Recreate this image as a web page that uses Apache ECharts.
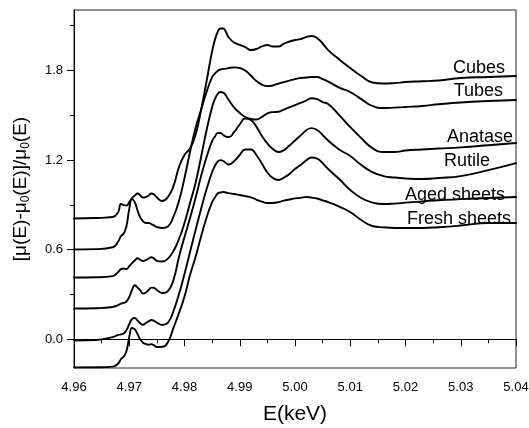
<!DOCTYPE html>
<html><head><meta charset="utf-8">
<script src="https://cdn.jsdelivr.net/npm/echarts@6/dist/echarts.min.js"></script>
<style>html,body{margin:0;padding:0;background:#fff}#c{width:529px;height:428px}</style>
</head><body><div id="c"></div>
<script>
const energy = [4.960,4.964,4.967,4.968,4.9685,4.969,4.9695,4.970,4.9705,4.971,4.9715,4.972,4.9725,4.973,4.9735,4.974,4.9745,4.975,4.976,4.977,4.978,4.979,4.980,4.981,4.982,4.983,4.984,4.985,4.9855,4.986,4.9865,4.987,4.9875,4.988,4.989,4.990,4.991,4.992,4.993,4.994,4.995,4.996,4.997,4.998,4.999,5.000,5.001,5.002,5.003,5.004,5.005,5.006,5.008,5.010,5.012,5.014,5.016,5.018,5.020,5.023,5.026,5.030,5.035,5.040];
const cubes = [0.808,0.811,0.818,0.852,0.905,0.898,0.895,0.918,0.945,0.962,0.975,0.962,0.948,0.952,0.962,0.975,0.968,0.948,0.925,0.952,1.025,1.152,1.233,1.276,1.367,1.534,1.728,1.928,2.002,2.056,2.079,2.079,2.056,2.019,1.985,1.969,1.955,1.935,1.942,1.959,1.969,1.959,1.959,1.978,1.992,2.002,2.008,2.022,2.029,2.015,1.979,1.935,1.872,1.815,1.761,1.718,1.711,1.714,1.721,1.726,1.731,1.748,1.755,1.761];
const tubes = [0.601,0.603,0.616,0.654,0.691,0.708,0.758,0.872,0.938,0.918,0.862,0.815,0.789,0.778,0.778,0.771,0.761,0.751,0.745,0.755,0.821,0.925,1.079,1.253,1.413,1.534,1.654,1.754,1.778,1.795,1.805,1.808,1.811,1.815,1.819,1.815,1.798,1.765,1.728,1.704,1.694,1.698,1.711,1.721,1.731,1.741,1.748,1.751,1.755,1.755,1.741,1.724,1.684,1.654,1.607,1.561,1.547,1.550,1.554,1.561,1.572,1.584,1.594,1.601];
const anatase = [0.413,0.415,0.423,0.450,0.470,0.474,0.470,0.490,0.510,0.527,0.542,0.532,0.524,0.530,0.540,0.549,0.540,0.525,0.520,0.540,0.591,0.671,0.778,0.912,1.046,1.220,1.400,1.554,1.607,1.641,1.654,1.651,1.631,1.601,1.550,1.514,1.487,1.474,1.470,1.487,1.512,1.520,1.522,1.537,1.552,1.567,1.581,1.597,1.613,1.607,1.587,1.574,1.500,1.420,1.346,1.279,1.253,1.253,1.263,1.270,1.276,1.284,1.298,1.313];
const rutile = [0.206,0.208,0.216,0.229,0.239,0.243,0.253,0.283,0.330,0.362,0.346,0.328,0.306,0.313,0.330,0.346,0.344,0.330,0.310,0.323,0.397,0.551,0.684,0.811,0.945,1.092,1.220,1.326,1.356,1.379,1.380,1.367,1.356,1.353,1.387,1.437,1.477,1.467,1.423,1.360,1.310,1.273,1.253,1.266,1.296,1.330,1.363,1.397,1.413,1.400,1.367,1.330,1.270,1.226,1.166,1.119,1.092,1.082,1.076,1.072,1.079,1.092,1.132,1.179];
const agedSheets = [-0.008,-0.005,0.015,0.029,0.033,0.039,0.062,0.102,0.136,0.142,0.126,0.107,0.097,0.109,0.120,0.129,0.124,0.112,0.096,0.112,0.189,0.303,0.437,0.584,0.731,0.872,1.005,1.119,1.159,1.189,1.199,1.193,1.179,1.169,1.193,1.233,1.270,1.270,1.233,1.176,1.116,1.079,1.066,1.082,1.106,1.139,1.166,1.196,1.216,1.209,1.179,1.139,1.072,0.999,0.945,0.915,0.905,0.908,0.914,0.923,0.930,0.938,0.945,0.952];
const freshSheets = [-0.188,-0.187,-0.183,-0.162,-0.132,-0.115,-0.078,0.015,0.076,0.066,0.035,-0.001,-0.023,-0.031,-0.036,-0.033,-0.041,-0.052,-0.050,-0.019,0.076,0.176,0.286,0.430,0.551,0.688,0.815,0.918,0.948,0.975,0.982,0.985,0.982,0.978,0.972,0.965,0.958,0.950,0.935,0.921,0.912,0.912,0.918,0.928,0.935,0.943,0.946,0.952,0.948,0.942,0.930,0.918,0.888,0.851,0.798,0.758,0.749,0.745,0.745,0.745,0.750,0.761,0.778,0.778];
const seriesNames = ['Cubes','Tubes','Anatase','Rutile','Aged sheets','Fresh sheets'];
const seriesValues = [cubes, tubes, anatase, rutile, agedSheets, freshSheets];
const yMajorTicks = [0, 0.6, 1.2, 1.8];
const yMinorTicks = [0.3, 0.9, 1.5, 2.1];

// label placement styling (pixel offsets from each curve's end)
const labelOffsets = [[-11,-8],[-13,-9],[-3,-6],[-26,-2.5],[-11,-2],[-5,-3.5]];
const FONT = '"Liberation Sans", Arial, sans-serif';

const chart = echarts.init(document.getElementById('c'), null, {renderer: 'canvas'});
const series = seriesValues.map((vals, i) => {
  const data = energy.map((e, k) => [e, vals[k]]);
  const last = data[data.length - 1];
  return {
    name: seriesNames[i], type: 'line', data: data,
    showSymbol: false, symbol: 'none', smooth: 0.5,
    lineStyle: {color: '#000', width: 1.9, join: 'round', cap: 'round'}, xAxisIndex: 0, yAxisIndex: 0, z: 3,
    emphasis: {disabled: true},
    markPoint: {
      symbol: 'circle', symbolSize: 0, silent: true, animation: false,
      itemStyle: {color: 'rgba(0,0,0,0)'},
      data: [{coord: last}],
      label: {show: true, position: 'left', distance: 0, offset: labelOffsets[i],
        formatter: seriesNames[i], color: '#000', fontSize: 18, fontFamily: FONT}
    }
  };
});

const yName = '{n|[μ(E)-μ}{s|0}{n|(E)]/μ}{s|0}{n|(E)}';

chart.setOption({
  animation: false,
  backgroundColor: '#fff',
  grid: {left: 74, right: 13, top: 10, bottom: 60, show: true, borderColor: '#222', borderWidth: 1,
         backgroundColor: 'transparent', outerBoundsMode: 'none', containLabel: false},
  xAxis: {
    type: 'value', min: 4.96, max: 5.04, interval: 0.01,
    axisLine: {show: true, lineStyle: {color: '#000', width: 1}},
    axisTick: {show: true, inside: false, length: 7, lineStyle: {color: '#000', width: 1}},
    minorTick: {show: true, splitNumber: 2, length: 4, lineStyle: {color: '#000', width: 1}},
    splitLine: {show: false}, minorSplitLine: {show: false},
    axisLabel: {color: '#000', fontSize: 13, fontFamily: FONT, margin: 13,
      formatter: v => v.toFixed(2)},
    name: 'E(keV)', nameLocation: 'middle', nameGap: 36,
    nameTextStyle: {color: '#000', fontSize: 21, fontFamily: FONT}
  },
  yAxis: [{
    type: 'value', min: -0.192, max: 2.203, position: 'left', offset: 0,
    axisLine: {show: true, lineStyle: {color: '#000', width: 1}},
    axisTick: {show: true, inside: false, length: 7, customValues: yMajorTicks, lineStyle: {color: '#000', width: 1}},
    splitLine: {show: false},
    axisLabel: {color: '#000', fontSize: 13, fontFamily: FONT, margin: 11, customValues: yMajorTicks,
      formatter: v => v.toFixed(1)},
    name: yName, nameLocation: 'middle', nameGap: 42, nameRotate: 90,
    nameTextStyle: {rich: {
      n: {fontSize: 19, fontFamily: FONT, color: '#000', lineHeight: 23},
      s: {fontSize: 12, fontFamily: FONT, color: '#000', lineHeight: 12, verticalAlign: 'bottom'}
    }}
  }, {
    type: 'value', min: -0.192, max: 2.203, position: 'left', offset: 0,
    axisLine: {show: false},
    axisTick: {show: true, inside: false, length: 4, customValues: yMinorTicks, lineStyle: {color: '#000', width: 1}},
    axisLabel: {show: false}, splitLine: {show: false}
  }],
  series: series
});
</script>
</body></html>
